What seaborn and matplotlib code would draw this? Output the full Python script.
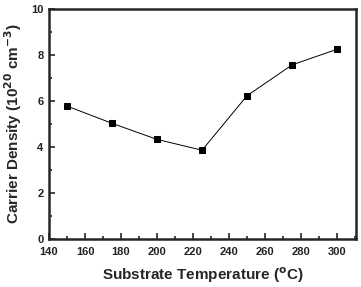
import matplotlib
matplotlib.use('Agg')
import matplotlib.pyplot as plt
import seaborn as sns
import pandas as pd
from matplotlib.ticker import MultipleLocator

temperature = [150, 175, 200, 225, 250, 275, 300]
carrier_density = [5.78, 5.03, 4.33, 3.86, 6.23, 7.57, 8.25]

df = pd.DataFrame({'temp': temperature, 'density': carrier_density})

sns.set_style('ticks')
plt.rcParams['font.family'] = ['Liberation Sans', 'DejaVu Sans']

fig = plt.figure(figsize=(3.61, 2.87), dpi=100)
ax = fig.add_axes([49 / 361, 1 - 239 / 287, 307 / 361, 230 / 287])

sns.lineplot(x='temp', y='density', data=df, ax=ax, color='black', linewidth=0.7,
             marker='s', markersize=5, markeredgecolor='black')

ax.set_xlim(140, 310.5)
ax.set_ylim(0, 10)
ax.xaxis.set_major_locator(MultipleLocator(20))
ax.xaxis.set_minor_locator(MultipleLocator(10))
ax.yaxis.set_major_locator(MultipleLocator(2))
ax.yaxis.set_minor_locator(MultipleLocator(1))
ax.tick_params(which='both', direction='in', width=1.2, labelsize=8)
ax.tick_params(axis='x', pad=5.5)
ax.tick_params(axis='y', pad=4)
ax.tick_params(which='major', length=4)
ax.tick_params(which='minor', length=2.5)
for lab in ax.get_xticklabels() + ax.get_yticklabels():
    lab.set_fontweight('bold')
    lab.set_color('#222222')
for s in ax.spines.values():
    s.set_linewidth(1.8)
    s.set_visible(True)

ax.set_xlabel('Substrate Temperature ($\\mathbf{^{o}}$C)', fontsize=11, fontweight='bold', labelpad=6)
ax.set_ylabel('Carrier Density (10$\\mathbf{^{20}}$ cm$\\mathbf{^{-3}}$)', fontsize=11, fontweight='bold', labelpad=5)

fig.savefig('out.png', dpi=100)
